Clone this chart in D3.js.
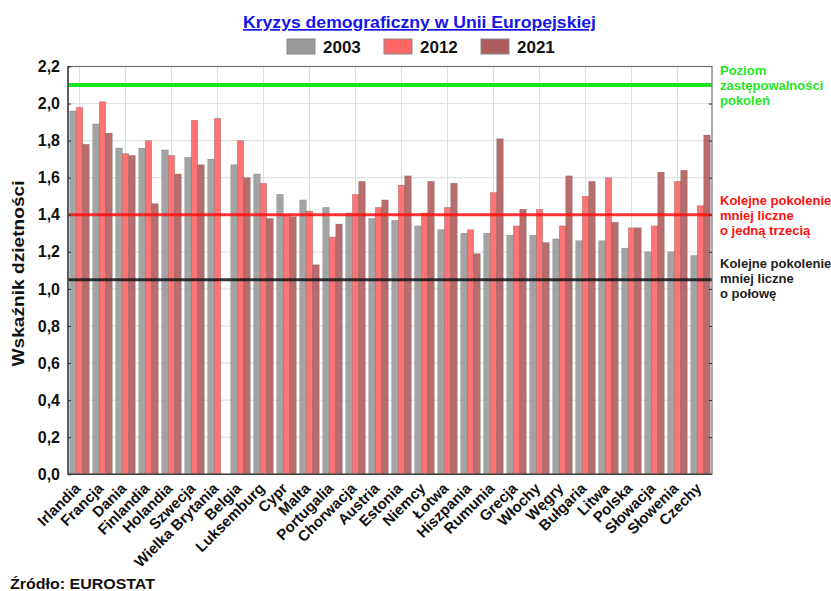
<!DOCTYPE html>
<html><head><meta charset="utf-8">
<script src="https://cdn.jsdelivr.net/npm/d3@7"></script>
<style>body{margin:0;background:#fff}svg{display:block;font-family:"Liberation Sans",Arial,sans-serif}</style>
</head><body><svg id="c" width="831" height="591"></svg>
<script>
const countries = ["Irlandia","Francja","Dania","Finlandia","Holandia","Szwecja","Wielka Brytania","Belgia","Luksemburg","Cypr","Malta","Portugalia","Chorwacja","Austria","Estonia","Niemcy","Łotwa","Hiszpania","Rumunia","Grecja","Włochy","Węgry","Bułgaria","Litwa","Polska","Słowacja","Słowenia","Czechy"];
const years = ["2003","2012","2021"];
const v2003 = [1.96,1.89,1.76,1.76,1.75,1.71,1.70,1.67,1.62,1.51,1.48,1.44,1.41,1.38,1.37,1.34,1.32,1.30,1.30,1.29,1.29,1.27,1.26,1.26,1.22,1.20,1.20,1.18];
const v2012 = [1.98,2.01,1.73,1.80,1.72,1.91,1.92,1.80,1.57,1.40,1.42,1.28,1.51,1.44,1.56,1.41,1.44,1.32,1.52,1.34,1.43,1.34,1.50,1.60,1.33,1.34,1.58,1.45];
const v2021 = [1.78,1.84,1.72,1.46,1.62,1.67,null,1.60,1.38,1.39,1.13,1.35,1.58,1.48,1.61,1.58,1.57,1.19,1.81,1.43,1.25,1.61,1.58,1.36,1.33,1.63,1.64,1.83];
const yTicks = [0,0.2,0.4,0.6,0.8,1.0,1.2,1.4,1.6,1.8,2.0,2.2];
const refLevels = [2.1,1.4,1.05];
const refLabels = [["Poziom","zastępowalności","pokoleń"],["Kolejne pokolenie","mniej liczne","o jedną trzecią"],["Kolejne pokolenie","mniej liczne","o połowę"]];
const refColors = ["#1ee61e","#ff1010","#141414"];
const barColors = ["#9a9a9a","#ff6666","#b05c5c"];
const series = [v2003,v2012,v2021];

const svg = d3.select("#c");
const L=68, R=712, T=66.5, B=474.3;
const x0 = d3.scaleBand().domain(countries).range([L,R]);
const x1 = d3.scaleBand().domain(years).range([0,x0.bandwidth()]).paddingOuter(0.27);
const y = d3.scaleLinear().domain([0,2.2]).range([B,T]);

// grid
svg.append("g").selectAll("line").data(yTicks.slice(1)).join("line")
  .attr("x1",L).attr("x2",R).attr("y1",d=>y(d)).attr("y2",d=>y(d))
  .attr("stroke","#dedede").attr("stroke-width",1);
svg.append("g").selectAll("line").data(countries.filter((d,i)=>i%2===0)).join("line")
  .attr("x1",d=>x0(d)+x0.bandwidth()/2).attr("x2",d=>x0(d)+x0.bandwidth()/2)
  .attr("y1",T).attr("y2",B).attr("stroke","#dedede").attr("stroke-width",1);

// bars
series.forEach((s,si)=>{
  svg.append("g").selectAll("rect").data(countries.map((c,i)=>({c,v:s[i]})).filter(d=>d.v!=null)).join("rect")
    .attr("x",d=>x0(d.c)+x1(years[si])).attr("width",x1.bandwidth())
    .attr("y",d=>y(d.v)).attr("height",d=>B-y(d.v))
    .attr("fill",barColors[si]).attr("fill-opacity",0.9)
    .attr("stroke","rgba(60,60,60,0.35)").attr("stroke-width",0.6);
});

// reference lines
refLevels.forEach((lv,i)=>{
  svg.append("line").attr("x1",L).attr("x2",R).attr("y1",y(lv)).attr("y2",y(lv))
    .attr("stroke",refColors[i]).attr("stroke-width",i===0?4:3).attr("stroke-opacity",i===0?1:0.85);
});

// frame
svg.append("rect").attr("x",L).attr("y",T).attr("width",R-L).attr("height",B-T)
  .attr("fill","none").attr("stroke","#707070").attr("stroke-width",1.2);
svg.append("line").attr("x1",L).attr("x2",R).attr("y1",B).attr("y2",B).attr("stroke","#444").attr("stroke-width",1.5);
svg.append("line").attr("x1",L).attr("x2",L).attr("y1",T).attr("y2",B).attr("stroke","#444").attr("stroke-width",1.5);

// y axis ticks inside (left & right)
const yAxL = d3.axisLeft(y).tickValues(yTicks).tickSizeInner(-3).tickSizeOuter(0).tickPadding(8)
  .tickFormat(d=>d3.format(".1f")(d).replace(".",","));
const gL = svg.append("g").attr("transform",`translate(${L},0)`).call(yAxL);
gL.select(".domain").remove();
gL.selectAll("line").attr("stroke","#333");
gL.selectAll("text").attr("font-size",16).attr("font-weight","bold").attr("fill","#111").attr("font-family","Liberation Sans, Arial, sans-serif");
const gR = svg.append("g").attr("transform",`translate(${R},0)`).call(d3.axisRight(y).tickValues(yTicks.slice(1,-1)).tickSizeInner(-3).tickSizeOuter(0).tickFormat(""));
gR.select(".domain").remove();
gR.selectAll("line").attr("stroke","#333");

// x labels
svg.append("g").selectAll("text").data(countries).join("text")
  .attr("transform",d=>`translate(${x0(d)+x0.bandwidth()/2+2},${B+15}) rotate(-45)`)
  .attr("text-anchor","end").attr("font-size",15).attr("font-weight","bold").attr("fill","#111")
  .text(d=>d);

// y label
svg.append("text").attr("transform","translate(24,273.5) rotate(-90)").attr("text-anchor","middle")
  .attr("font-size",17).attr("font-weight","bold").attr("fill","#111")
  .attr("textLength",186).attr("lengthAdjust","spacingAndGlyphs").text("Wskaźnik dzietności");

// title
svg.append("text").attr("x",419.5).attr("y",28).attr("text-anchor","middle")
  .attr("font-size",17).attr("font-weight","bold").attr("fill","#1515ee")
  .attr("textLength",353).attr("lengthAdjust","spacingAndGlyphs")
  .attr("text-decoration","underline").text("Kryzys demograficzny w Unii Europejskiej");

// legend
const lx = [287,384,481];
years.forEach((yr,i)=>{
  svg.append("rect").attr("x",lx[i]).attr("y",39).attr("width",28).attr("height",15)
    .attr("fill",barColors[i]).attr("stroke","#888").attr("stroke-width",1);
  svg.append("text").attr("x",lx[i]+36).attr("y",53).attr("font-size",17).attr("font-weight","bold").attr("fill","#111").text(yr);
});

// ref labels
const refY = [75,205,268];
refLabels.forEach((lines,i)=>{
  lines.forEach((t,j)=>{
    svg.append("text").attr("x",720).attr("y",refY[i]+j*15).attr("font-size",13).attr("font-weight","bold")
      .attr("fill",refColors[i]==="#141414"?"#222":refColors[i]).text(t);
  });
});

// source
svg.append("text").attr("x",10).attr("y",589).attr("font-size",15.5).attr("font-weight","bold").attr("fill","#111")
  .attr("textLength",145).attr("lengthAdjust","spacingAndGlyphs").text("Źródło: EUROSTAT");
</script></body></html>
